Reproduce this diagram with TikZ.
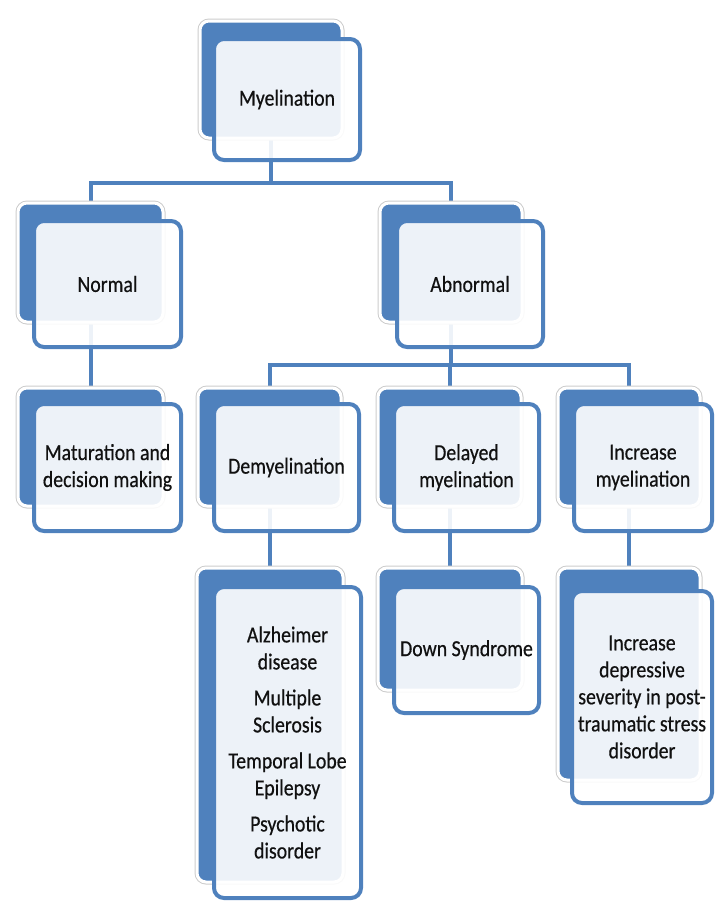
\documentclass[tikz,border=0pt]{standalone}
\usepackage{fontspec}
\setmainfont{Carlito}[FakeStretch=0.86,FakeBold=0.5]
\usetikzlibrary{backgrounds}
\definecolor{sblue}{HTML}{4F81BD}
\definecolor{txt}{HTML}{111111}
\begin{document}
\begin{tikzpicture}[x=1pt,y=-1pt,
  backbox/.style={anchor=north west, inner sep=0pt, outer sep=0pt, fill=sblue, draw=white, line width=3pt, rounded corners=9pt, preaction={draw=black!20, line width=5pt}},
  frontbox/.style={anchor=north west, inner sep=0pt, outer sep=0pt, fill=white, fill opacity=0.9, text opacity=1, draw=sblue, line width=4pt, rounded corners=10pt, text=txt, font=\fontsize{23}{27}\selectfont, align=center},
  conn/.style={draw=sblue, line width=4pt}]
\useasboundingbox (0,0) rectangle (717,902);
% back boxes
\node[backbox, minimum width=142, minimum height=117] (myB) at (200,21) {};
\node[backbox, minimum width=145, minimum height=119] (normB) at (18,203) {};
\node[backbox, minimum width=142, minimum height=119] (abnB) at (380,203) {};
\node[backbox, minimum width=145, minimum height=118] (matB) at (18,388) {};
\node[backbox, minimum width=143, minimum height=118] (demB) at (198,388) {};
\node[backbox, minimum width=143, minimum height=118] (delB) at (378,388) {};
\node[backbox, minimum width=142, minimum height=118] (incB) at (558,388) {};
\node[backbox, minimum width=146, minimum height=314] (alzB) at (197,568) {};
\node[backbox, minimum width=144, minimum height=122] (downB) at (378,568) {};
\node[backbox, minimum width=142, minimum height=212] (ptsdB) at (558,568) {};
% connectors
\coordinate (bar1) at (0,183);
\coordinate (bar2) at (0,365);
\begin{pgfonlayer}{background}
\draw[conn] (myB.center) -- (myB.center |- bar1);
\draw[conn] (normB.north) |- (abnB.north |- bar1) -- (abnB.north);
\draw[conn] (normB.center) -- (normB.center |- matB.north);
\draw[conn] (abnB.center) -- (abnB.center |- bar2);
\draw[conn] (demB.north) |- (incB.north |- bar2) -- (incB.north);
\draw[conn] (delB.north) -- (delB.north |- bar2);
\draw[conn] (demB.center) -- (demB.center |- alzB.north);
\draw[conn] (delB.center) -- (delB.center |- downB.north);
\draw[conn] (incB.center) -- (incB.center |- ptsdB.north);
\end{pgfonlayer}
% front boxes
\node[frontbox, minimum width=146, minimum height=121] (my) at (214,39) {Myelination};
\node[frontbox, minimum width=147, minimum height=126] (norm) at (34,221) {Normal};
\node[frontbox, minimum width=146, minimum height=126] (abn) at (397,221) {Abnormal};
\node[frontbox, minimum width=147, minimum height=127] (mat) at (34,404) {Maturation and\\decision making};
\node[frontbox, minimum width=145, minimum height=127] (dem) at (214,404) {Demyelination};
\node[frontbox, minimum width=145, minimum height=127] (del) at (394,404) {Delayed\\myelination};
\node[frontbox, minimum width=138, minimum height=127] (inc) at (574,404) {Increase\\myelination};
\node[frontbox, minimum width=147, minimum height=311] (alz) at (214,587) {Alzheimer\\disease\\[9pt]Multiple\\Sclerosis\\[9pt]Temporal Lobe\\Epilepsy\\[9pt]Psychotic\\disorder};
\node[frontbox, minimum width=145, minimum height=126] (down) at (394,587) {Down Syndrome};
\node[frontbox, minimum width=140, minimum height=212] (ptsd) at (572,591) {Increase\\depressive\\severity in post-\\traumatic stress\\disorder};
\end{tikzpicture}
\end{document}
